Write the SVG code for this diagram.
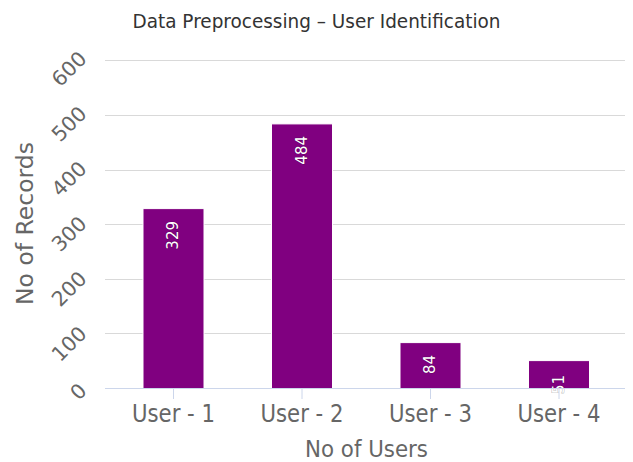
<svg xmlns="http://www.w3.org/2000/svg" width="633" height="462" viewBox="0 0 633 462">
<style>
.grid{stroke:#d9d9d9;stroke-width:1}
.axis{stroke:#ccd6eb;stroke-width:1}
.bar{fill:#800080;stroke:#ffffff;stroke-width:1}
.title{font-family:"DejaVu Sans",sans-serif;font-size:20px;fill:#333333;text-anchor:middle}
.xl{font-family:"DejaVu Sans",sans-serif;font-size:24px;fill:#666666;text-anchor:middle}
.at{font-family:"DejaVu Sans",sans-serif;font-size:23px;fill:#666666;text-anchor:middle}
.yl{font-family:"DejaVu Sans",sans-serif;font-size:20.5px;fill:#666666;text-anchor:end}
.dl{font-family:"DejaVu Sans",sans-serif;font-size:15px;fill:#ffffff;text-anchor:end;stroke:#000000;stroke-opacity:0.25;stroke-width:1.2;paint-order:stroke}
</style>
<rect x="0" y="0" width="633" height="462" fill="#ffffff"/>
<g id="title"><text class="title" x="316.5" y="28" textLength="368" lengthAdjust="spacingAndGlyphs">Data Preprocessing – User Identification</text></g>
<g id="grid">
<line class="grid" x1="105" y1="60.5" x2="625" y2="60.5"/>
<line class="grid" x1="105" y1="115.5" x2="625" y2="115.5"/>
<line class="grid" x1="105" y1="170.5" x2="625" y2="170.5"/>
<line class="grid" x1="105" y1="224.5" x2="625" y2="224.5"/>
<line class="grid" x1="105" y1="279.5" x2="625" y2="279.5"/>
<line class="grid" x1="105" y1="333.5" x2="625" y2="333.5"/>
</g>
<g id="y-labels">
<text class="yl" transform="translate(88,60) rotate(-45)">600</text>
<text class="yl" transform="translate(88,115) rotate(-45)">500</text>
<text class="yl" transform="translate(88,170) rotate(-45)">400</text>
<text class="yl" transform="translate(88,225) rotate(-45)">300</text>
<text class="yl" transform="translate(88,280) rotate(-45)">200</text>
<text class="yl" transform="translate(88,335) rotate(-45)">100</text>
<text class="yl" transform="translate(88,392) rotate(-45)">0</text>
</g>
<g id="y-title"><text class="at" transform="translate(33,223.5) rotate(-90)" textLength="163" lengthAdjust="spacingAndGlyphs">No of Records</text></g>
<g id="bar-user1"><rect class="bar" x="143" y="208.6" width="61" height="179.9"/><text class="dl" transform="translate(178,221) rotate(-90)">329</text></g>
<g id="bar-user2"><rect class="bar" x="271.5" y="123.9" width="61" height="264.6"/><text class="dl" transform="translate(306.5,136) rotate(-90)">484</text></g>
<g id="bar-user3"><rect class="bar" x="400" y="342.6" width="61" height="45.9"/><text class="dl" transform="translate(435,355) rotate(-90)">84</text></g>
<g id="bar-user4"><rect class="bar" x="528.5" y="360.6" width="61" height="27.9"/><text class="dl" transform="translate(563.5,375) rotate(-90)">51</text></g>
<g id="connectors">
<line class="axis" x1="105" y1="388.5" x2="625" y2="388.5"/>
<line class="axis" x1="173.5" y1="388.5" x2="173.5" y2="399"/>
<line class="axis" x1="302" y1="388.5" x2="302" y2="399"/>
<line class="axis" x1="430.5" y1="388.5" x2="430.5" y2="399"/>
<line class="axis" x1="559" y1="388.5" x2="559" y2="399"/>
</g>
<g id="x-labels">
<text class="xl" x="173.5" y="421.7" textLength="83" lengthAdjust="spacingAndGlyphs">User - 1</text>
<text class="xl" x="302" y="421.7" textLength="83" lengthAdjust="spacingAndGlyphs">User - 2</text>
<text class="xl" x="430.5" y="421.7" textLength="83" lengthAdjust="spacingAndGlyphs">User - 3</text>
<text class="xl" x="559" y="421.7" textLength="83" lengthAdjust="spacingAndGlyphs">User - 4</text>
</g>
<g id="x-title"><text class="at" x="366.5" y="456.7" textLength="123" lengthAdjust="spacingAndGlyphs">No of Users</text></g>
</svg>
